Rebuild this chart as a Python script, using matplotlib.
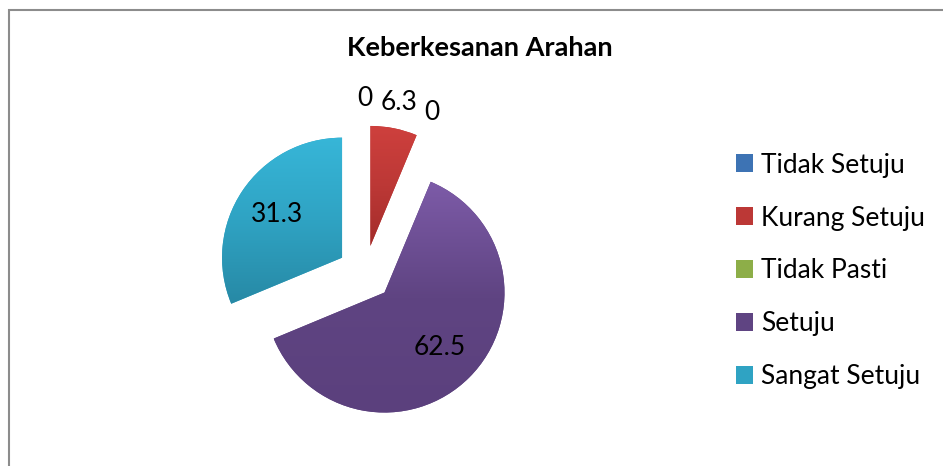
import numpy as np
import matplotlib.pyplot as plt
from matplotlib.colors import LinearSegmentedColormap
from matplotlib.patches import Rectangle

plt.rcParams['font.family'] = ['Lato', 'DejaVu Sans']

# data
categories = ['Tidak Setuju', 'Kurang Setuju', 'Tidak Pasti', 'Setuju', 'Sangat Setuju']
values = [0, 6.3, 0, 62.5, 31.3]
value_labels = ['0', '6.3', '0', '62.5', '31.3']

# excel-ish gradient colours (top, middle, bottom)
top_colors = ['#4A86CC', '#CE403D', '#A2C555', '#7D5BA8', '#37B6D8']
mid_colors = ['#3D73B4', '#BC3836', '#8DAE48', '#5F4482', '#2FA3C3']
bot_colors = ['#30609A', '#A32C2A', '#77953B', '#5B407D', '#2789A5']

fig = plt.figure(figsize=(9.43, 4.66), dpi=100)

# chart frame (cut off at right and bottom like the screenshot)
fig.patches.append(Rectangle((9 / 943, -0.2), 1.2, 1.2 - 10 / 466,
                             transform=fig.transFigure, fill=False,
                             edgecolor='#8c8c8c', linewidth=1.5))

# pie centre at ~(365, 273) px, radius ~120 px
cx, cy, half = 365, 273, 180
ax = fig.add_axes([(cx - half) / 943, (466 - cy - half) / 466, 2 * half / 943, 2 * half / 466])
ax.axis('off')

wedges, _ = ax.pie(values, explode=[0.23] * len(values), startangle=90,
                   counterclock=False, radius=1,
                   colors=mid_colors, wedgeprops=dict(linewidth=0))

grad = np.linspace(1, 0, 256).reshape(-1, 1)
for w, c0, c1, c2, v in zip(wedges, top_colors, mid_colors, bot_colors, values):
    if v == 0:
        continue
    verts = w.get_path().vertices
    x0, y0 = verts.min(axis=0)
    x1, y1 = verts.max(axis=0)
    cmap = LinearSegmentedColormap.from_list('g', [(0, c2), (0.5, c1), (1, c0)])
    im = ax.imshow(grad, cmap=cmap, extent=[x0, x1, y0, y1], aspect='auto',
                   interpolation='bicubic', zorder=w.get_zorder() + 0.1)
    im.set_clip_path(w)
ax.set_xlim(-1.5, 1.5)
ax.set_ylim(-1.5, 1.5)

# value labels: big slices inside, small / zero slices outside
for w, v, lab in zip(wedges, values, value_labels):
    ang = np.deg2rad((w.theta1 + w.theta2) / 2)
    r = 0.65 if v > 20 else 1.22
    x = w.center[0] + r * np.cos(ang)
    y = w.center[1] + r * np.sin(ang)
    ax.text(x, y, lab, ha='center', va='center', fontsize=19, color='black', zorder=5)

fig.text(480 / 943, 1 - 48 / 466, 'Keberkesanan Arahan', ha='center', va='center',
         fontsize=19.5, fontweight='bold')

fig.legend(wedges, categories, loc='center left',
           bbox_to_anchor=(712 / 943, 1 - 271 / 466), frameon=False,
           fontsize=19, handlelength=0.65, handleheight=0.65,
           handletextpad=0.3, labelspacing=1.06)

plt.savefig('out.png', dpi=100)
